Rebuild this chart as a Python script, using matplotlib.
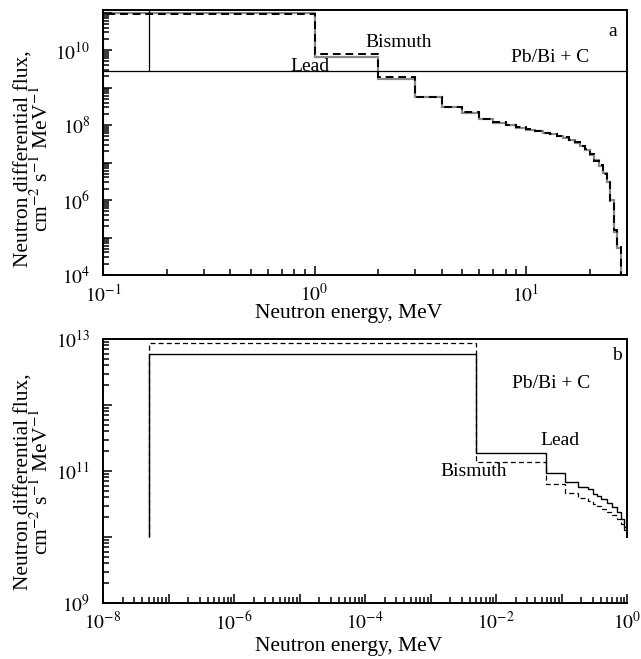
import numpy as np
import matplotlib
matplotlib.use("Agg")
import matplotlib.pyplot as plt
from matplotlib.ticker import LogLocator, FuncFormatter, NullFormatter

plt.rcParams['font.family'] = ['Liberation Serif', 'DejaVu Serif']
plt.rcParams['mathtext.fontset'] = 'stix'

# ---------------- Panel a data (MeV, flux) ----------------
a_edges = [0.1, 1, 2, 3, 4, 5, 6, 7, 8, 9, 10, 11, 12, 13, 14, 15, 16, 17, 18,
           19, 20, 21, 22, 23, 24, 25, 26, 27, 28]
a_lead_log = [11.0, 9.81, 9.23, 8.74, 8.47, 8.31, 8.15, 8.05, 7.99, 7.93,
              7.87, 7.83, 7.79, 7.75, 7.71, 7.65, 7.60, 7.52, 7.44, 7.33,
              7.20, 7.07, 6.91, 6.72, 6.48, 6.00, 5.15, 4.72]
a_bi_log = [10.96, 9.89, 9.27, 8.75, 8.48, 8.35, 8.17, 8.07, 8.00, 7.95,
            7.89, 7.84, 7.80, 7.76, 7.72, 7.67, 7.61, 7.54, 7.45, 7.35,
            7.22, 7.05, 6.93, 6.70, 6.50, 5.95, 5.20, 4.75]
a_ref_flux = 2.75e9       # horizontal reference line in panel a
a_ref_energy = 0.165      # vertical reference line in panel a

# ---------------- Panel b data (MeV, flux) ----------------
b_edges = [5e-8, 5e-3, 0.058, 0.113, 0.18, 0.25, 0.3, 0.35, 0.4, 0.5, 0.6,
           0.7, 0.8, 0.9, 1.0]
b_lead_log = [12.77, 11.27, 10.97, 10.83, 10.76, 10.72, 10.65, 10.62, 10.58,
              10.52, 10.45, 10.38, 10.28, 10.15]
b_bi_log = [12.94, 11.14, 10.80, 10.67, 10.59, 10.55, 10.50, 10.47, 10.42,
            10.38, 10.33, 10.28, 10.20, 10.10]

fig = plt.figure(figsize=(6.41, 6.59), dpi=100)
W, H = 641, 659


def axes_px(l, t, r, b):
    return fig.add_axes([l / W, 1 - b / H, (r - l) / W, (b - t) / H])


axa = axes_px(103, 10, 627, 275)
axb = axes_px(103, 339, 627, 603)

for ax in (axa, axb):
    ax.set_xscale('log')
    ax.set_yscale('log')
    for s in ax.spines.values():
        s.set_linewidth(1.4)
    ax.tick_params(which='both', direction='in', top=False, right=False,
                   labelsize=14, width=1.1)
    ax.tick_params(which='major', length=6.5)
    ax.tick_params(which='minor', length=4.5)
    ax.tick_params(axis='y', which='major', pad=9)
    ax.tick_params(axis='x', which='major', pad=6)
    ax.xaxis.set_major_locator(LogLocator(base=10, numticks=30))
    ax.yaxis.set_major_locator(LogLocator(base=10, numticks=30))
    ax.xaxis.set_minor_locator(LogLocator(base=10, subs=np.arange(2, 10), numticks=30))
    ax.yaxis.set_minor_locator(LogLocator(base=10, subs=np.arange(2, 10), numticks=30))
    ax.xaxis.set_minor_formatter(NullFormatter())
    ax.yaxis.set_minor_formatter(NullFormatter())


def fmt_parity(parity):
    def f(v, pos):
        e = int(round(np.log10(v)))
        if parity is None or e % 2 == parity:
            return r'$10^{%d}$' % e
        return ''
    return FuncFormatter(f)


YLABEL = 'Neutron differential flux,\ncm$^{-2}$ s$^{-1}$ MeV$^{-1}$'

# ---- Panel a ----
axa.set_xlim(0.1, 30)
axa.set_ylim(1e4, 10 ** 11.07)
axa.stairs(10 ** np.array(a_lead_log), a_edges, baseline=1e4,
           color='#8a8a8a', lw=1.6)
axa.stairs(10 ** np.array(a_bi_log), a_edges, baseline=1e4,
           color='black', lw=1.4, ls=(0, (4, 2.5)))
axa.axhline(a_ref_flux, color='black', lw=0.9)
axa.plot([a_ref_energy, a_ref_energy], [a_ref_flux, 10 ** 11.07],
         color='black', lw=0.9)
axa.xaxis.set_major_formatter(fmt_parity(None))
axa.yaxis.set_major_formatter(fmt_parity(0))
axa.text(0.395, 0.785, 'Lead', transform=axa.transAxes, fontsize=14,
         ha='center', va='center')
axa.text(0.565, 0.879, 'Bismuth', transform=axa.transAxes, fontsize=14,
         ha='center', va='center')
axa.text(0.973, 0.917, 'a', transform=axa.transAxes, fontsize=14,
         ha='center', va='center')
axa.text(0.853, 0.819, 'Pb/Bi + C', transform=axa.transAxes, fontsize=14,
         ha='center', va='center')
axa.set_xlabel('Neutron energy, MeV', fontsize=15.5)
axa.xaxis.set_label_coords(0.469, -0.11)
axa.set_ylabel(YLABEL, fontsize=15.5, linespacing=0.85)
axa.yaxis.set_label_coords(-0.095, 0.44)

# ---- Panel b ----
axb.set_xlim(1e-8, 1)
axb.set_ylim(1e9, 1e13)
axb.stairs(10 ** np.array(b_lead_log), b_edges, baseline=1e10,
           color='black', lw=1.0)
axb.stairs(10 ** np.array(b_bi_log), b_edges, baseline=1e10,
           color='black', lw=0.9, ls=(0, (4, 2.5)))
axb.spines['right'].set_bounds(1e10, 1e13)
axb.xaxis.set_major_formatter(fmt_parity(0))
axb.yaxis.set_major_formatter(fmt_parity(1))
axb.text(0.981, 0.936, 'b', transform=axb.transAxes, fontsize=14,
         ha='center', va='center')
axb.text(0.855, 0.833, 'Pb/Bi + C', transform=axb.transAxes, fontsize=14,
         ha='center', va='center')
axb.text(0.872, 0.614, 'Lead', transform=axb.transAxes, fontsize=14,
         ha='center', va='center')
axb.text(0.708, 0.50, 'Bismuth', transform=axb.transAxes, fontsize=14,
         ha='center', va='center')
axb.set_xlabel('Neutron energy, MeV', fontsize=15.5)
axb.xaxis.set_label_coords(0.469, -0.13)
axb.set_ylabel(YLABEL, fontsize=15.5, linespacing=0.85)
axb.yaxis.set_label_coords(-0.095, 0.46)

fig.savefig('out.png', dpi=100)
